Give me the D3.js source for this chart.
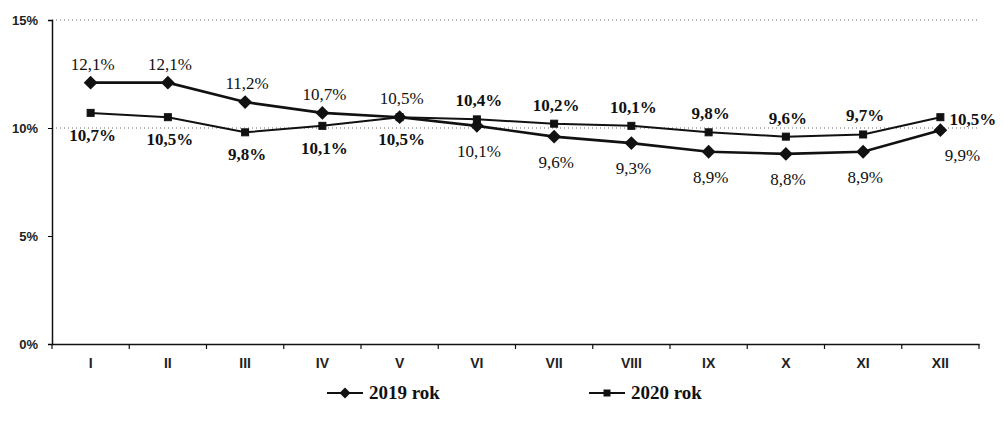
<!DOCTYPE html>
<html><head><meta charset="utf-8">
<script src="https://cdn.jsdelivr.net/npm/d3@7"></script>
<style>body{margin:0;background:#fff}svg{display:block}</style>
</head><body>
<svg id="c" width="1004" height="430"></svg>
<script>
const months = ["I","II","III","IV","V","VI","VII","VIII","IX","X","XI","XII"];
const values2019 = [12.1,12.1,11.2,10.7,10.5,10.1,9.6,9.3,8.9,8.8,8.9,9.9];
const values2020 = [10.7,10.5,9.8,10.1,10.5,10.4,10.2,10.1,9.8,9.6,9.7,10.5];
const yTicks = [0,5,10,15];
const seriesNames = ["2019 rok","2020 rok"];

const svg = d3.select("#c");
const L = 52, R = 979, T = 20, B = 344;
const x = d3.scaleBand().domain(months).range([L,R]);
const y = d3.scaleLinear().domain([0,15]).range([B,T]);
const cx = m => x(m) + x.bandwidth()/2;

svg.selectAll("line.grid").data([10,15]).join("line")
  .attr("x1",L).attr("x2",R).attr("y1",d=>y(d)).attr("y2",d=>y(d))
  .attr("stroke","#666").attr("stroke-width",1).attr("stroke-dasharray","1,3");

const ya = svg.append("g").attr("transform",`translate(${L},0)`)
  .call(d3.axisLeft(y).tickValues(yTicks).tickSize(4).tickFormat(d=>d+"%"));
ya.select(".domain").attr("stroke","#111").attr("stroke-width",1.5);
ya.selectAll("text").attr("font-family","Liberation Sans, Arial").attr("font-size",13).attr("font-weight","bold").attr("fill","#222").attr("x",-14);

const xa = svg.append("g").attr("transform",`translate(0,${B})`)
  .call(d3.axisBottom(x).tickSize(0).tickPadding(14));
xa.select(".domain").attr("stroke","#111").attr("stroke-width",1.5);
xa.selectAll("text").attr("font-family","Liberation Sans, Arial").attr("font-size",14).attr("font-weight","bold").attr("fill","#222");
svg.selectAll("line.xt").data(d3.range(months.length+1)).join("line")
  .attr("x1",i=>L+i*x.bandwidth()).attr("x2",i=>L+i*x.bandwidth())
  .attr("y1",B).attr("y2",B+5).attr("stroke","#111").attr("stroke-width",1.2);

const line = d3.line().x((d,i)=>cx(months[i])).y(d=>y(d));
svg.append("path").datum(values2020).attr("d",line).attr("fill","none").attr("stroke","#111").attr("stroke-width",2);
svg.append("path").datum(values2019).attr("d",line).attr("fill","none").attr("stroke","#111").attr("stroke-width",2.6);

svg.selectAll("path.m19").data(values2019).join("path")
  .attr("transform",(d,i)=>`translate(${cx(months[i])},${y(d)}) rotate(45)`)
  .attr("d",d3.symbol().type(d3.symbolSquare).size(95)).attr("fill","#111");
svg.selectAll("rect.m20").data(values2020).join("rect")
  .attr("x",(d,i)=>cx(months[i])-3.5).attr("y",d=>y(d)-3.5).attr("width",7).attr("height",7)
  .attr("fill","#111").attr("stroke","#111");

const fmt = v => v.toFixed(1).replace(".",",")+"%";
svg.selectAll("text.l19").data(values2019).join("text")
  .attr("x",(d,i)=>cx(months[i]) + (i===11?22:2))
  .attr("y",(d,i)=> y(d) + (i<5 ? -13 : 31))
  .attr("text-anchor","middle").attr("font-family","Liberation Serif, Times New Roman").attr("font-size",17).attr("fill","#111")
  .text(fmt);
svg.selectAll("text.l20").data(values2020).join("text")
  .attr("x",(d,i)=>cx(months[i]) + (i===11?9:2))
  .attr("y",(d,i)=> i===11 ? y(d)+8 : y(d) + (i<5 ? 28 : -13))
  .attr("text-anchor",(d,i)=>i===11?"start":"middle").attr("font-family","Liberation Serif, Times New Roman").attr("font-size",17).attr("font-weight","bold").attr("fill","#111")
  .text(fmt);

const lg = svg.append("g");
const items = [{x:327,name:seriesNames[0],t:"d"},{x:589,name:seriesNames[1],t:"s"}];
items.forEach(it=>{
  const g = lg.append("g").attr("transform",`translate(${it.x},393)`);
  g.append("line").attr("x1",0).attr("x2",36).attr("y1",0).attr("y2",0).attr("stroke","#111").attr("stroke-width",2.2);
  if(it.t==="d") g.append("path").attr("transform","translate(18,0) rotate(45)").attr("d",d3.symbol().type(d3.symbolSquare).size(60)).attr("fill","#111");
  else g.append("rect").attr("x",14.5).attr("y",-3.5).attr("width",7).attr("height",7).attr("fill","#111");
  g.append("text").attr("x",42).attr("y",6).attr("font-family","Liberation Serif, Times New Roman").attr("font-size",19).attr("font-weight","bold").attr("fill","#111").text(it.name);
});
</script>
</body></html>
